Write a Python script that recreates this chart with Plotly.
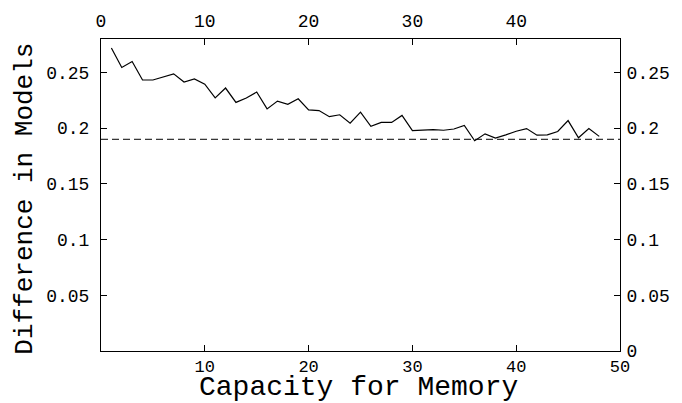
import plotly.graph_objects as go

capacity = list(range(1, 49))
difference = [
    0.272, 0.2545, 0.2598, 0.2432, 0.2432, 0.2458, 0.2487, 0.2414, 0.2441, 0.2394,
    0.2271, 0.2360, 0.2231, 0.2271, 0.2324, 0.2173, 0.2243, 0.2214, 0.2263, 0.2164,
    0.2158, 0.2103, 0.2120, 0.2045, 0.2144, 0.2016, 0.2051, 0.2051, 0.2114, 0.1978,
    0.1984, 0.1987, 0.1981, 0.1992, 0.2024, 0.1887, 0.1949, 0.1911, 0.1940, 0.1972,
    0.1996, 0.1937, 0.1940, 0.1970, 0.2068, 0.1914, 0.1996, 0.1926,
]
baseline = 0.19

x_range = [0, 50]
y_range = [0, 0.28]
bottom_ticks = [10, 20, 30, 40, 50]
top_ticks = [0, 10, 20, 30, 40]
left_ticks = [0.05, 0.1, 0.15, 0.2, 0.25]
left_labels = ["0.05", "0.1", "0.15", "0.2", "0.25"]
right_ticks = [0, 0.05, 0.1, 0.15, 0.2, 0.25]
right_labels = ["0", "0.05", "0.1", "0.15", "0.2", "0.25"]

FONT = "Liberation Mono"
tick_font = dict(family=FONT, size=18, color="black")

fig = go.Figure()
fig.add_trace(go.Scatter(
    x=capacity, y=difference, mode="lines",
    line=dict(color="black", width=1.2), hoverinfo="skip", showlegend=False,
))
fig.add_trace(go.Scatter(
    x=x_range, y=y_range, xaxis="x2", yaxis="y2", mode="markers",
    marker=dict(opacity=0), hoverinfo="skip", showlegend=False,
))
fig.add_shape(
    type="line", xref="x", yref="y", x0=x_range[0], x1=x_range[1],
    y0=baseline, y1=baseline, line=dict(color="black", width=1, dash="7px,4px"),
)

axis_common = dict(
    showline=True, linecolor="black", linewidth=1, ticks="inside", ticklen=6,
    tickcolor="black", tickwidth=1, showgrid=False, zeroline=False,
    tickfont=tick_font,
)

fig.update_layout(
    width=682, height=403,
    margin=dict(l=101, r=61, t=30, b=52),
    paper_bgcolor="white", plot_bgcolor="white",
    showlegend=False,
    xaxis=dict(range=x_range, tickvals=bottom_ticks, ticktext=[str(v) for v in bottom_ticks],
               side="bottom", ticklabelstandoff=0,
               tickfont=dict(family=FONT, size=17, color="black"),
               **{k: v for k, v in axis_common.items() if k != "tickfont"}),
    xaxis2=dict(range=x_range, tickvals=top_ticks, ticktext=[str(v) for v in top_ticks],
                side="top", overlaying="x", ticklabelstandoff=4, **axis_common),
    yaxis=dict(range=y_range, tickvals=left_ticks, ticktext=left_labels,
               side="left", ticklabelstandoff=7, **axis_common),
    yaxis2=dict(range=y_range, tickvals=right_ticks, ticktext=right_labels,
                side="right", overlaying="y", ticklabelstandoff=2, **axis_common),
    annotations=[
        dict(text="Capacity for Memory", xref="paper", yref="paper", x=0.496, y=-0.118,
             xanchor="center", yanchor="middle", showarrow=False,
             font=dict(family=FONT, size=28, color="black")),
        dict(text="Difference in Models", xref="paper", yref="paper", x=-0.146, y=0.489,
             xanchor="center", yanchor="middle", showarrow=False, textangle=-90,
             font=dict(family=FONT, size=26, color="black")),
    ],
)

fig.write_html("out.html")
